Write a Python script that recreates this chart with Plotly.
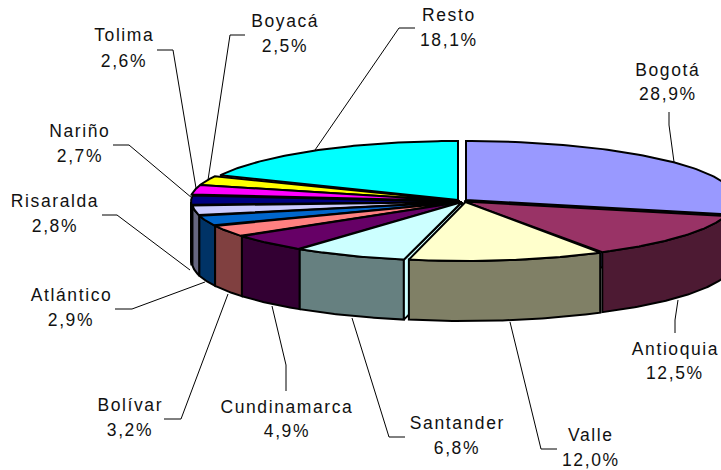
import numpy as np
import plotly.graph_objects as go

departments = ["Bogotá", "Antioquia", "Valle", "Santander", "Cundinamarca", "Bolívar",
               "Atlántico", "Risaralda", "Nariño", "Tolima", "Boyacá", "Resto"]
shares = [28.9, 12.5, 12.0, 6.8, 4.9, 3.2, 2.9, 2.8, 2.7, 2.6, 2.5, 18.1]

top_colors = ["#9999FF", "#993366", "#FFFFCC", "#CCFFFF", "#660066", "#FF8080",
              "#0066CC", "#CCCCFF", "#000080", "#FF00FF", "#FFFF00", "#00FFFF"]
side_colors = ["#4D4D80", "#4D1A33", "#808066", "#668080", "#330033", "#804040",
               "#003366", "#666680", "#000040", "#800080", "#808000", "#008080"]

# ellipse geometry (pixels): per-slice centre and half-width (the original has perspective)
B, DEPTH = 59, 60
centers = [(466, 200), (464, 201.5), (465.5, 202), (462, 202), (462, 202), (462, 202),
           (462, 202), (462, 202), (461, 202), (460, 201), (460, 201), (458, 200)]
half_widths = [270, 270, 263, 270, 270, 270, 270, 270, 270, 270, 270, 262]

# label layout: centre x, name y, pct y
label_pos = [(668, 70, 94), (675, 349, 373), (591, 435, 460), (457, 423, 448),
             (287, 407, 431), (130, 405, 430), (71, 295, 320), (55, 201, 226),
             (80, 131, 156), (124, 35, 61), (285, 21, 46), (449, 15, 40)]
leaders = [[(669, 112), (669, 125), (674, 162)],
           [(678, 300), (675, 320), (675, 333)],
           [(510, 322), (541, 449), (557, 449)],
           [(352, 318), (389, 437), (405, 437)],
           [(272, 306), (286, 365), (286, 391)],
           [(228, 294), (181, 419), (164, 419)],
           [(205, 282), (132, 309), (115, 309)],
           [(190, 270), (117, 215), (102, 215)],
           [(192, 198), (129, 145), (113, 145)],
           [(196, 188), (173, 50), (157, 50)],
           [(208, 180), (230, 35), (245, 35)],
           [(315, 150), (399, 28), (415, 28)]]

total = sum(shares)
edges = np.concatenate([[0], np.cumsum(shares)]) / total * 360.0


def ell(cx, cy, a, deg):
    r = np.radians(deg)
    return cx + a * np.sin(r), cy - B * np.cos(r)


fig = go.Figure()


def poly(xs, ys, fill, lw=2.0, name=""):
    fig.add_trace(go.Scatter(x=list(xs) + [xs[0]], y=list(ys) + [ys[0]], mode="lines",
                             fill="toself", fillcolor=fill,
                             line=dict(color="black", width=lw),
                             hoverinfo="skip", name=name))


order = [11, 10, 9, 8, 7, 6, 5, 4, 3, 0, 1, 2]
for i in order:
    t0, t1 = edges[i], edges[i + 1]
    cx, cy = centers[i]
    a = half_widths[i]
    # outer wall (front half only)
    a0, a1 = max(t0, 90), min(t1, 270)
    if a1 > a0:
        ts = np.linspace(a0, a1, 60)
        x, y = ell(cx, cy, a, ts)
        poly(np.r_[x, x[::-1]], np.r_[y, y[::-1] + DEPTH], side_colors[i], name=departments[i])
    # cut faces seen from the front
    if i == 0:
        x1, y1 = ell(cx, cy, a, t1)
        poly([cx, x1, x1, cx], [cy, y1, y1 + DEPTH, cy + DEPTH], side_colors[i], name=departments[i])
    if i == 3:
        x1, y1 = ell(cx, cy, a, t0)
        poly([cx, x1, x1, cx], [cy, y1, y1 + DEPTH, cy + DEPTH], top_colors[i], name=departments[i])
    # top face
    ts = np.linspace(t0, t1, 90)
    x, y = ell(cx, cy, a, ts)
    poly(np.r_[cx, x], np.r_[cy, y], top_colors[i], name=departments[i])

for pts in leaders:
    fig.add_trace(go.Scatter(x=[p[0] for p in pts], y=[p[1] for p in pts], mode="lines",
                             line=dict(color="black", width=1), hoverinfo="skip"))

for name, val, (lx, ny, py) in zip(departments, shares, label_pos):
    fig.add_annotation(x=lx, y=ny, text=name, showarrow=False)
    fig.add_annotation(x=lx, y=py, text=f"{val:.1f}%".replace(".", ","), showarrow=False)

fig.update_annotations(font=dict(family="Liberation Sans, Arial, sans-serif", size=17.5, color="#111111"))
fig.update_layout(width=721, height=470, margin=dict(l=0, r=0, t=0, b=0),
                  paper_bgcolor="white", plot_bgcolor="white", showlegend=False,
                  xaxis=dict(range=[0, 721], visible=False, fixedrange=True),
                  yaxis=dict(range=[470, 0], visible=False, fixedrange=True))
fig.write_html("out.html", config=dict(displayModeBar=False),
               post_script="document.body.style.margin='0';document.querySelectorAll('.annotation-text').forEach(function(t){t.style.letterSpacing='1.6px';});")
